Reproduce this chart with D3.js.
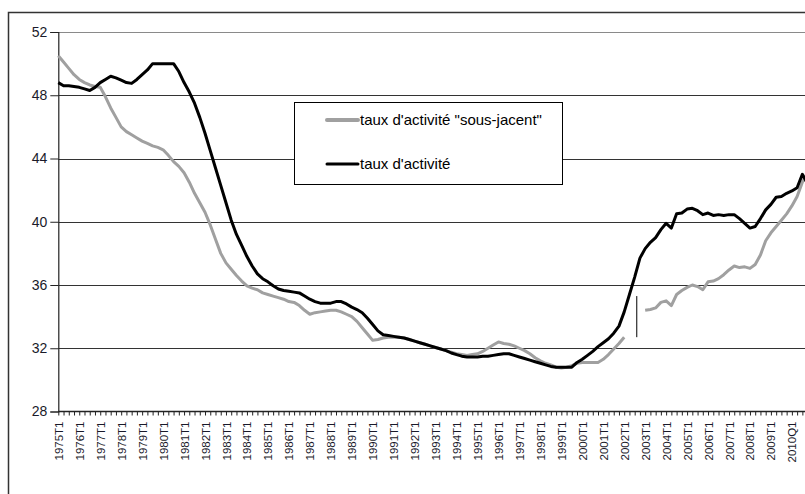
<!DOCTYPE html>
<html><head><meta charset="utf-8">
<script src="https://cdn.jsdelivr.net/npm/d3@7"></script>
<style>
html,body{margin:0;padding:0;background:#fff;overflow:hidden}
text{font-family:"Liberation Sans",Arial,sans-serif}
</style></head>
<body><svg id="c" width="805" height="494"></svg>
<script>
// Quarterly categories 1975T1 .. 2010T4
const years = d3.range(1975, 2011);
const quarters = [];
years.forEach(yr => [1,2,3,4].forEach(q => quarters.push(yr === 2010 ? yr + "Q" + q : yr + "T" + q)));

const tickLabels = ["1975T1","1976T1","1977T1","1978T1","1979T1","1980T1","1981T1","1982T1","1983T1","1984T1",
 "1985T1","1986T1","1987T1","1988T1","1989T1","1990T1","1991T1","1992T1","1993T1","1994T1","1995T1","1996T1",
 "1997T1","1998T1","1999T1","2000T1","2001T1","2002T1","2003T1","2004T1","2005T1","2006T1","2007T1","2008T1",
 "2009T1","2010Q1"];

const yTicks = [28,32,36,40,44,48,52];

// taux d'activité
const tauxActivite = [
 48.8,48.6,48.6,48.55,48.5,48.4,48.3,48.5,48.8,49.0,49.2,49.1,48.95,48.8,48.75,49.0,
 49.3,49.6,50.0,50.0,50.0,50.0,50.0,49.5,48.8,48.2,47.5,46.6,45.6,44.5,43.4,42.3,
 41.2,40.1,39.2,38.5,37.8,37.2,36.7,36.4,36.2,35.95,35.75,35.65,35.6,35.55,35.5,35.3,
 35.1,34.95,34.85,34.85,34.85,34.95,34.95,34.8,34.6,34.45,34.25,33.9,33.5,33.1,32.85,32.8,
 32.75,32.7,32.65,32.55,32.45,32.35,32.25,32.15,32.05,31.95,31.85,31.7,31.6,31.5,31.45,31.45,
 31.45,31.5,31.5,31.55,31.6,31.65,31.65,31.55,31.45,31.35,31.25,31.15,31.05,30.95,30.85,30.8,
 30.8,30.8,30.8,31.1,31.3,31.55,31.8,32.1,32.35,32.6,32.95,33.4,34.3,35.4,36.5,37.7,
 38.3,38.7,39.0,39.5,39.9,39.6,40.5,40.55,40.8,40.85,40.7,40.45,40.55,40.4,40.45,40.4,
 40.45,40.45,40.2,39.9,39.6,39.7,40.2,40.75,41.1,41.55,41.6,41.8,41.95,42.15,43.0,42.4
];

// taux d'activité "sous-jacent" (null = no value)
const tauxSousJacent = [
 50.5,50.1,49.7,49.3,49.0,48.8,48.65,48.55,48.5,47.9,47.2,46.6,46.0,45.7,45.5,45.3,
 45.1,44.95,44.8,44.7,44.55,44.2,43.8,43.5,43.1,42.5,41.8,41.2,40.6,39.8,38.9,38.0,
 37.4,37.0,36.6,36.25,35.95,35.8,35.7,35.5,35.4,35.3,35.2,35.1,34.95,34.9,34.7,34.4,
 34.15,34.25,34.3,34.35,34.4,34.4,34.3,34.15,34.0,33.7,33.3,32.9,32.5,32.55,32.65,32.7,
 32.7,32.7,32.65,32.55,32.45,32.35,32.25,32.15,32.05,31.95,31.85,31.75,31.65,31.6,31.55,31.6,
 31.65,31.8,32.0,32.2,32.4,32.3,32.25,32.15,32.0,31.85,31.65,31.4,31.2,31.05,30.95,30.8,
 30.75,30.8,30.9,31.05,31.1,31.1,31.1,31.1,31.3,31.6,31.95,32.3,32.7,null,null,null,
 34.4,34.45,34.55,34.9,35.0,34.7,35.4,35.65,35.85,36.0,35.9,35.7,36.2,36.25,36.4,36.65,
 36.95,37.2,37.1,37.15,37.05,37.3,37.9,38.8,39.3,39.7,40.1,40.5,41.0,41.6,42.5,43.1
];

// thin break marker between 2002T3 and 2002T4
const breakMarker = {pos: 110.4, from: 32.7, to: 35.3};

const legendItems = [
 {label: "taux d'activité \"sous-jacent\"", color: "#a0a0a0"},
 {label: "taux d'activité", color: "#000000"}
];

const svg = d3.select("#c");
const plotLeft = 58.3, plotTop = 32, plotBottom = 411.5, plotRight = 807.6;

const x = d3.scalePoint().domain(quarters).range([plotLeft, plotRight]);
const xi = i => x(quarters[i]);
const y = d3.scaleLinear().domain([28, 52]).range([plotBottom, plotTop]);

// outer frame
svg.append("rect").attr("x", 8.5).attr("y", 12.5).attr("width", 900).attr("height", 600)
  .attr("fill", "none").attr("stroke", "#333").attr("stroke-width", 1.5);

// gridlines
svg.append("g").selectAll("line").data(yTicks.filter(d => d > 28)).join("line")
  .attr("x1", plotLeft).attr("x2", plotRight)
  .attr("y1", d => Math.round(y(d)) + 0.5).attr("y2", d => Math.round(y(d)) + 0.5)
  .attr("stroke", d => d === 52 ? "#8a8a8a" : "#333").attr("stroke-width", 1.2);

// y axis
const yAxis = svg.append("g").attr("transform", `translate(${plotLeft},0)`)
  .call(d3.axisLeft(y).tickValues(yTicks).tickSize(8).tickPadding(3));
yAxis.select(".domain").attr("stroke", "#222").attr("stroke-width", 1.2);
yAxis.selectAll(".tick line").attr("stroke", "#222");
yAxis.selectAll("text").attr("font-size", 14).attr("fill", "#1a1a2a")
  .attr("font-family", "'Liberation Sans',Arial,sans-serif");

// x axis
const xAxis = svg.append("g").attr("transform", `translate(0,${plotBottom})`)
  .call(d3.axisBottom(x).tickSize(4).tickFormat(d => tickLabels.includes(d) ? d : ""));
xAxis.select(".domain").attr("stroke", "#222").attr("stroke-width", 1.5).attr("d", `M${plotLeft},0H${plotRight}`);
xAxis.selectAll(".tick line").attr("stroke", "#222");
xAxis.selectAll("text")
  .attr("font-size", 11.5).attr("fill", "#1a1a2a")
  .attr("font-family", "'Liberation Sans',Arial,sans-serif")
  .attr("text-anchor", "end")
  .attr("transform", "rotate(-90)")
  .attr("x", -10).attr("y", 0).attr("dy", "0.35em");

// lines
const line = d3.line().defined(d => d != null).x((d, i) => xi(i)).y(d => y(d));
svg.append("path").datum(tauxSousJacent).attr("d", line)
  .attr("fill", "none").attr("stroke", legendItems[0].color).attr("stroke-width", 3)
  .attr("stroke-linejoin", "round");
svg.append("path").datum(tauxActivite).attr("d", line)
  .attr("fill", "none").attr("stroke", legendItems[1].color).attr("stroke-width", 3)
  .attr("stroke-linejoin", "round");

// break marker
const bx = plotLeft + (xi(1) - xi(0)) * breakMarker.pos;
svg.append("line").attr("x1", bx).attr("x2", bx)
  .attr("y1", y(breakMarker.from)).attr("y2", y(breakMarker.to))
  .attr("stroke", "#000").attr("stroke-width", 1);

// legend
const lg = svg.append("g");
lg.append("rect").attr("x", 294.5).attr("y", 102.5).attr("width", 268).attr("height", 82)
  .attr("fill", "#fff").attr("stroke", "#000").attr("stroke-width", 1);
legendItems.forEach((it, k) => {
  const ly = 120 + k * 44;
  lg.append("line").attr("x1", 327).attr("x2", 358).attr("y1", ly).attr("y2", ly)
    .attr("stroke", it.color).attr("stroke-width", k === 0 ? 4 : 3).attr("stroke-linecap", "round");
  lg.append("text").attr("x", 360).attr("y", ly).attr("dy", "0.35em")
    .attr("font-size", 15).attr("fill", "#000").text(it.label);
});
</script></body></html>
